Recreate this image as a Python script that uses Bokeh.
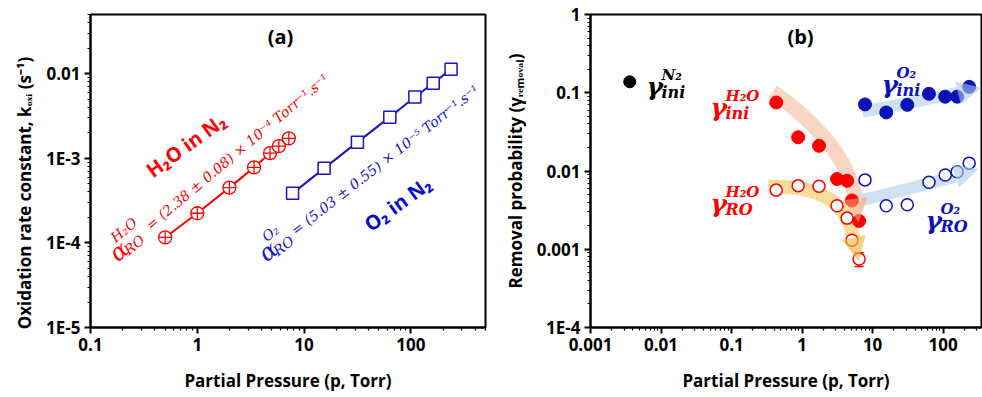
import numpy as np
from bokeh.plotting import figure
from bokeh.layouts import row
from bokeh.models import (FixedTicker, CustomJSTickFormatter, Label, Whisker, ColumnDataSource,
                          Arrow, NormalHead, TeeHead, Range1d)
from bokeh.embed import file_html
from bokeh.resources import INLINE
from bokeh.core.properties import value

# ---------------- data: panel (a) ----------------
a_x_ticks = [0.1, 1, 10, 100]
a_x_labels = ["0.1", "1", "10", "100"]
a_y_ticks = [1e-5, 1e-4, 1e-3, 1e-2]
a_y_labels = ["1E-5", "1E-4", "1E-3", "0.01"]

h2o_p = [0.5, 1.0, 2.0, 3.4, 4.8, 5.8, 7.2]
h2o_k = [1.16e-4, 2.24e-4, 4.5e-4, 7.8e-4, 1.15e-3, 1.39e-3, 1.72e-3]
h2o_k_err = [0.06e-4, 0.1e-4, 0.2e-4, 0.35e-4, 0.5e-4, 0.6e-4, 0.8e-4]
o2_p = [7.8, 15.4, 31.6, 63.5, 109, 162, 238]
o2_k = [3.85e-4, 7.6e-4, 1.55e-3, 3.06e-3, 5.3e-3, 7.7e-3, 1.13e-2]
o2_k_err = [0.35e-4, 0.6e-4, 1.2e-4, 2.4e-4, 4.2e-4, 6e-4, 9e-4]

# ---------------- data: panel (b) ----------------
b_x_ticks = [0.001, 0.01, 0.1, 1, 10, 100]
b_x_labels = ["0.001", "0.01", "0.1", "1", "10", "100"]
b_y_ticks = [1e-4, 1e-3, 1e-2, 0.1, 1]
b_y_labels = ["1E-4", "0.001", "0.01", "0.1", "1"]

n2_p = [0.0036]
n2_ini = [0.138]
h2o_b_p = [0.43, 0.88, 1.74, 3.13, 4.35, 5.1, 6.43]
h2o_ini = [0.075, 0.027, 0.021, 0.0079, 0.0075, 0.0042, 0.0023]
h2o_ro = [0.0057, 0.0065, 0.0064, 0.0036, 0.0025, 0.0013, 0.00075]
h2o_ro_err = [0.0005, 0.0004, 0.0005, 0.0003, 0.0002, 0.00012, 0.00015]
o2_b_p = [7.8, 15.6, 31, 63, 107, 158, 234]
o2_ini = [0.071, 0.056, 0.070, 0.097, 0.089, 0.089, 0.119]
o2_ro = [0.0077, 0.0036, 0.0037, 0.0072, 0.0089, 0.0098, 0.0126]
o2_ro_err = [0.0006, 0.0003, 0.0003, 0.0006, 0.0007, 0.0008, 0.001]

RED = "#ff0000"
BLUE_A = "#1616c8"
BLUE_B = "#0a12b8"
SANS = "Open Sans"
SERIF = "DejaVu Serif"
EQ_FONT = "DejaVu Serif"
NBSP = "\u00a0"

# ---------------- geometry ----------------
A = dict(page_left=0, left=90, right=5, top=14, bottom=70, width=490, height=397,
         xr=(0.1, 500), yr=(1e-5, 0.05))
B = dict(page_left=490, left=100, right=1, top=14, bottom=67, width=492, height=397,
         xr=(0.001, 350), yr=(1e-4, 1))


def mapper(g):
    fl = g["page_left"] + g["left"]
    fw = g["width"] - g["left"] - g["right"]
    ft = g["top"]
    fh = g["height"] - g["top"] - g["bottom"]
    lx0, lx1 = np.log10(g["xr"])
    ly0, ly1 = np.log10(g["yr"])

    def f(px, py):
        x = 10 ** (lx0 + (px - fl) / fw * (lx1 - lx0))
        y = 10 ** (ly1 - (py - ft) / fh * (ly1 - ly0))
        return x, y
    return f


def fmt(ticks, labels):
    return CustomJSTickFormatter(args=dict(t=ticks, l=labels), code="""
        for (let i = 0; i < t.length; i++) {
            if (Math.abs(Math.log10(tick) - Math.log10(t[i])) < 1e-6) return l[i];
        }
        return "";
    """)


def make_fig(g, xt, xl, yt, yl, xlabel, ylabel):
    p = figure(width=g["width"], height=g["height"], x_axis_type="log", y_axis_type="log",
               x_range=Range1d(*g["xr"]), y_range=Range1d(*g["yr"]),
               output_backend="svg", toolbar_location=None,
               min_border_left=g["left"], min_border_right=g["right"],
               min_border_top=g["top"], min_border_bottom=g["bottom"])
    p.grid.visible = False
    p.outline_line_color = "black"
    p.outline_line_width = 2
    p.outline_line_alpha = 1
    p.background_fill_color = "white"
    p.border_fill_color = "white"
    p.xaxis.ticker = FixedTicker(ticks=xt, minor_ticks=[d * k for d in xt for k in range(2, 10)])
    p.yaxis.ticker = FixedTicker(ticks=yt, minor_ticks=[d * k for d in yt for k in range(2, 10)])
    p.xaxis.formatter = fmt(xt, xl)
    p.yaxis.formatter = fmt(yt, yl)
    for ax in (p.xaxis[0], p.yaxis[0]):
        ax.axis_line_width = 2
        ax.major_tick_line_width = 2
        ax.minor_tick_line_width = 1.2
        ax.major_tick_out = 6
        ax.major_tick_in = 0
        ax.minor_tick_out = 3
        ax.minor_tick_in = 0
        ax.major_label_text_font = SANS
        ax.major_label_text_font_style = "bold"
        ax.major_label_text_font_size = "17px"
        ax.major_label_text_color = "black"
        ax.axis_label_text_font = SANS
        ax.axis_label_text_font_style = "bold"
        ax.axis_label_text_font_size = "17px"
        ax.axis_label_text_color = "black"
        ax.major_label_standoff = 4
    p.xaxis.axis_label = xlabel
    p.yaxis.axis_label = ylabel
    p.xaxis.axis_label_standoff = 15
    p.yaxis.axis_label_standoff = 7
    return p


def txt(p, mp, px, py, text, size, color, style="bold", font=SANS, angle=0.0,
        align="left", baseline="alphabetic"):
    x, y = mp(px, py)
    p.add_layout(Label(x=x, y=y, text=text, text_font=font, text_font_size=f"{size}px",
                       text_font_style=style, text_color=color, angle=angle,
                       text_align=align, text_baseline=baseline))


def rot_pieces(p, mp, ax, ay, angle_deg, pieces, color, font, style):
    th = np.radians(angle_deg)
    for u, v, t, size in pieces:
        px = ax + u * np.cos(th) - v * np.sin(th)
        py = ay - (u * np.sin(th) + v * np.cos(th))
        txt(p, mp, px, py, t, size, color, style=style, font=font, angle=th)


def gamma(p, mp, gx, gy, sup, sub, color):
    txt(p, mp, gx, gy, "γ", 25, color, style="bold italic", font=SERIF)
    txt(p, mp, gx + 15, gy - 12, sup, 15, color, style="bold italic", font=SERIF)
    txt(p, mp, gx + 15, gy + 6, sub, 16, color, style="bold italic", font=SERIF)


def band(p, mp, pts, color, alpha, width):
    (x0, y0), (cx0, cy0), (cx1, cy1), (x1, y1) = [mp(*q) for q in pts]
    p.bezier(x0=[x0], y0=[y0], x1=[x1], y1=[y1], cx0=[cx0], cy0=[cy0], cx1=[cx1], cy1=[cy1],
             line_color=color, line_alpha=alpha, line_width=width)


def head(p, mp, s, e, color, alpha, size):
    xs, ys = mp(*s)
    xe, ye = mp(*e)
    p.add_layout(Arrow(end=NormalHead(size=size, fill_color=color, fill_alpha=alpha, line_alpha=0),
                       x_start=xs, y_start=ys, x_end=xe, y_end=ye, line_alpha=0))


def errbars(p, xs, ys, errs, color, size):
    src = ColumnDataSource(dict(x=xs, upper=[a + b for a, b in zip(ys, errs)],
                                lower=[a - b for a, b in zip(ys, errs)]))
    p.add_layout(Whisker(source=src, base="x", upper="upper", lower="lower",
                         line_color=color, line_width=1.5,
                         upper_head=TeeHead(size=size, line_color=color, line_width=1.5),
                         lower_head=TeeHead(size=size, line_color=color, line_width=1.5)))


# ================= panel (a) =================
mA = mapper(A)
pa = make_fig(A, a_x_ticks, a_x_labels, a_y_ticks, a_y_labels,
              "Partial Pressure (p, Torr)",
              "Oxidation rate constant, kₒₓᵢ (s⁻¹)" + NBSP * 10)

pa.line(h2o_p, h2o_k, line_color=RED, line_width=2)
errbars(pa, h2o_p, h2o_k, h2o_k_err, RED, 8)
pa.scatter(h2o_p, h2o_k, marker="circle_cross", size=13, line_color=RED, fill_color="white",
           line_width=1.3)

pa.line(o2_p, o2_k, line_color=BLUE_A, line_width=2)
errbars(pa, o2_p, o2_k, o2_k_err, BLUE_A, 13)
pa.scatter(o2_p, o2_k, marker="square", size=12, line_color=BLUE_A, fill_color="white",
           line_width=1.5)

txt(pa, mA, 280, 36, "(a)", 20, "black", align="center", baseline="middle")
txt(pa, mA, 148, 172, "H₂O in N₂", 20, RED, angle=np.radians(36))
txt(pa, mA, 366, 226, "O₂ in N₂", 20, "#0a0ad0", angle=np.radians(36))

rot_pieces(pa, mA, 112, 256, 40,
           [(0, 0, "α", 24), (13, -5, "RO", 14), (11, 13, "H₂O", 14),
            (46, 0, "= (2.38 ± 0.08) × 10⁻⁴ Torr⁻¹.s⁻¹", 14)],
           RED, EQ_FONT, "italic")
rot_pieces(pa, mA, 261, 256, 38,
           [(0, 0, "α", 24), (13, -5, "RO", 14), (13, 13, "O₂", 14),
            (40, 0, "= (5.03 ± 0.55) × 10⁻⁵ Torr⁻¹.s⁻¹", 14)],
           BLUE_A, EQ_FONT, "italic")

# ================= panel (b) =================
mB = mapper(B)
pb = make_fig(B, b_x_ticks, b_x_labels, b_y_ticks, b_y_labels,
              "Partial Pressure (p, Torr)", "Removal probability (γᵣₑₘₒᵥₐₗ)")

# decorative trend arrows
band(pb, mB, [(772, 92), (815, 122), (848, 160), (855, 200)], "#f2a47c", 0.45, 15)
head(pb, mB, (855, 198), (858, 224), "#f0a070", 0.6, 24)
band(pb, mB, [(768, 188), (815, 186), (846, 200), (853, 240)], "#f3c04a", 0.55, 14)
head(pb, mB, (853, 238), (858, 263), "#f0b840", 0.65, 24)
band(pb, mB, [(862, 112), (895, 106), (930, 99), (958, 93)], "#a8c8ea", 0.55, 12)
head(pb, mB, (955, 94), (981, 88), "#a8c8ea", 0.6, 24)
band(pb, mB, [(862, 201), (895, 194), (925, 185), (955, 178)], "#a8c8ea", 0.55, 12)
head(pb, mB, (952, 178), (978, 170), "#a8c8ea", 0.6, 24)

pb.scatter(n2_p, n2_ini, marker="circle", size=12, fill_color="black", line_color="black")

errbars(pb, h2o_b_p, h2o_ro, h2o_ro_err, RED, 9)
pb.scatter(h2o_b_p, h2o_ro, marker="circle", size=12, fill_color="white", line_color=RED,
           line_width=1.5)
pb.scatter(h2o_b_p, h2o_ini, marker="circle", size=13, fill_color=RED, line_color=RED)

errbars(pb, o2_b_p, o2_ro, o2_ro_err, BLUE_B, 9)
pb.scatter(o2_b_p, o2_ro, marker="circle", size=12, fill_color="white", line_color=BLUE_B,
           line_width=1.5)
pb.scatter(o2_b_p, o2_ini, marker="circle", size=13, fill_color=BLUE_B, line_color=BLUE_B)

txt(pb, mB, 800, 36, "(b)", 20, "black", align="center", baseline="middle")
gamma(pb, mB, 646, 87, "N₂", "ini", "black")
gamma(pb, mB, 710, 108, "H₂O", "ini", RED)
gamma(pb, mB, 710, 205, "H₂O", "RO", RED)
gamma(pb, mB, 881, 85, "O₂", "ini", BLUE_B)
gamma(pb, mB, 925, 222, "O₂", "RO", BLUE_B)

layout = row(pa, pb, spacing=0)
open("out.html", "w").write(file_html(layout, INLINE))
